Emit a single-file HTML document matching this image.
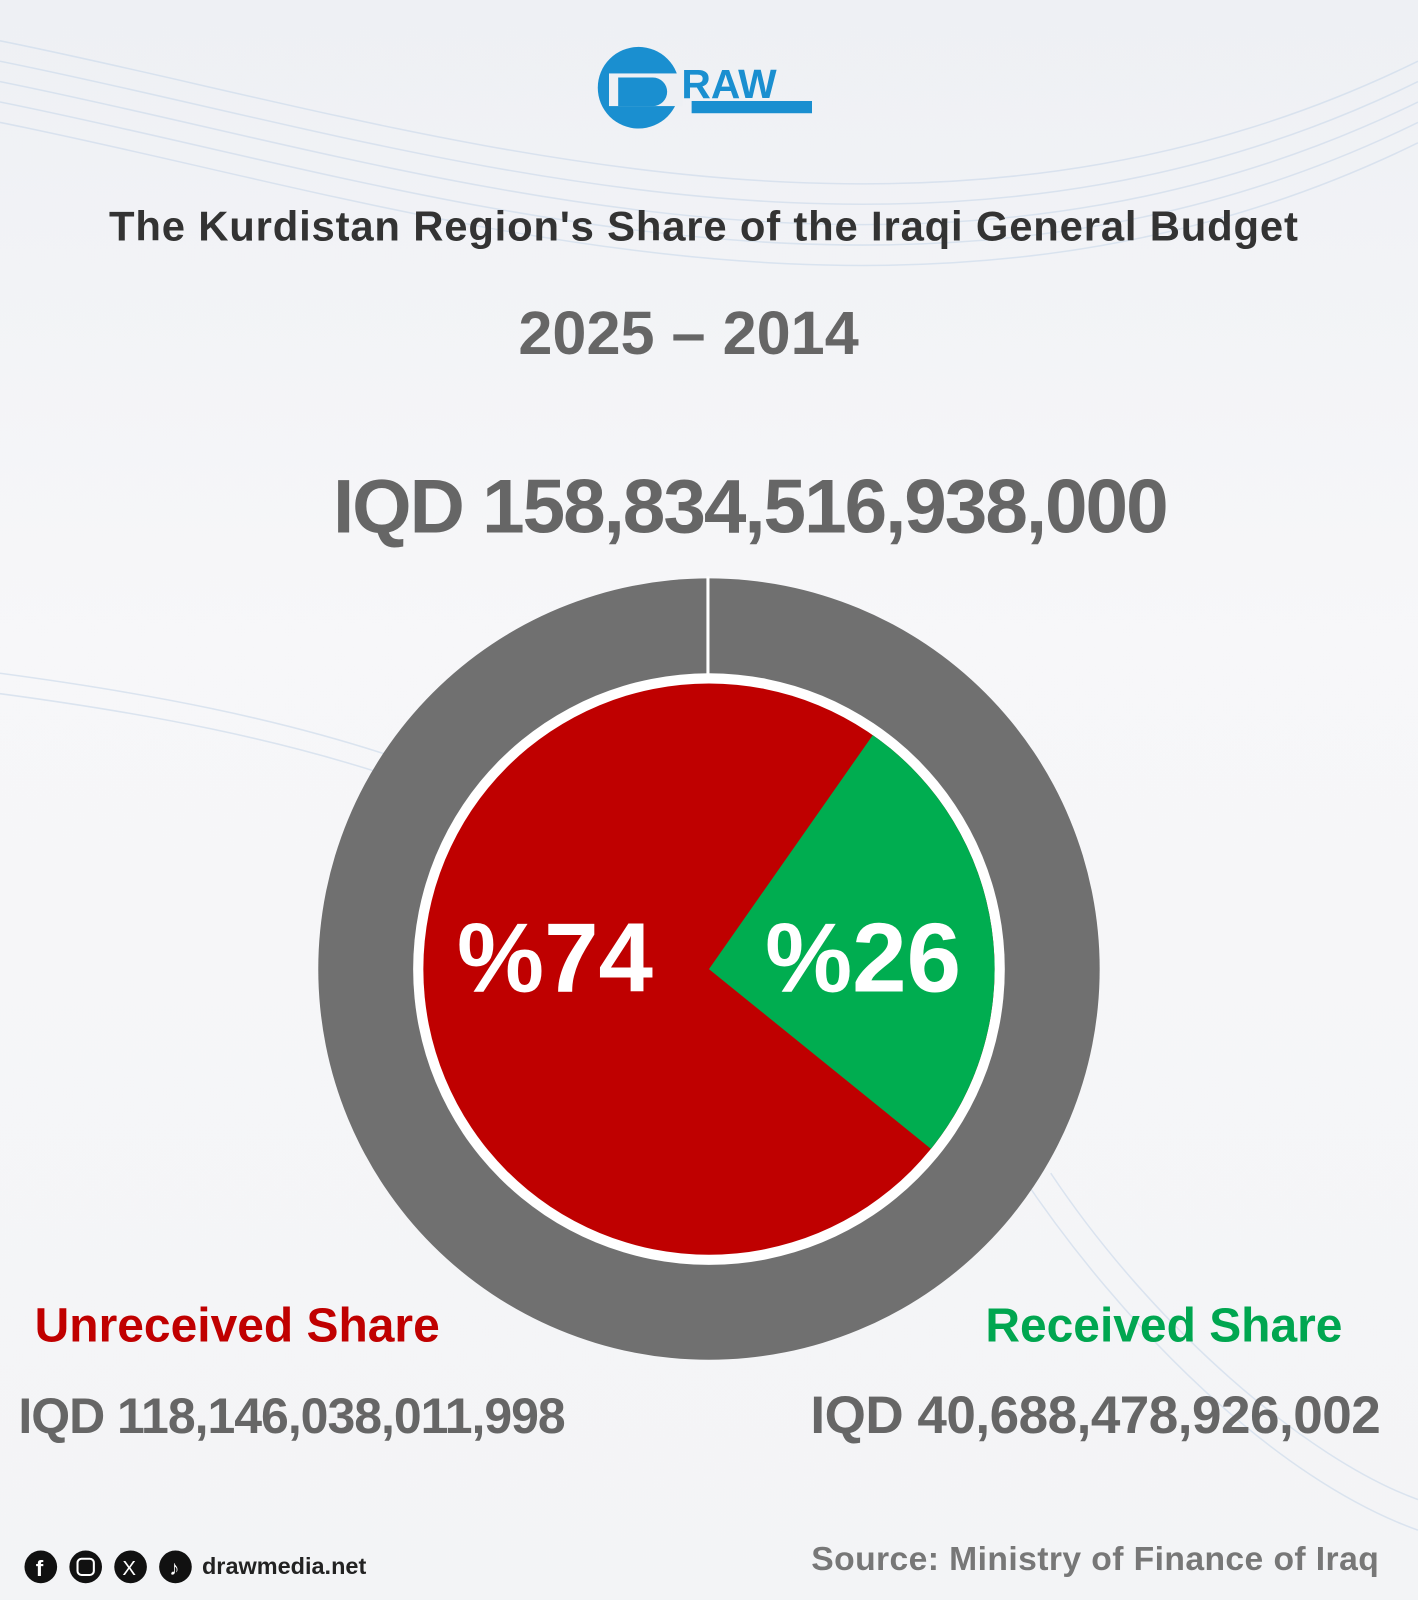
<!DOCTYPE html>
<html><head><meta charset="utf-8"><style>
html,body{margin:0;padding:0}
body{width:1418px;height:1600px;position:relative;overflow:hidden;background:linear-gradient(180deg,#eef0f4 0%,#f7f7f9 40%,#f3f4f6 100%);font-family:"Liberation Sans",Arial,sans-serif}
#w{position:absolute;left:0;top:0;width:1390px;height:1568px;transform:scale(1.0201);transform-origin:0 0}
.t{position:absolute;white-space:nowrap;font-weight:bold}
</style></head><body><div id="w">
<svg width="1390" height="1568" style="position:absolute;left:0;top:0">
<g fill="none" stroke="#cfdcec" stroke-width="1.5" opacity="0.7">
<path d="M0,40 C400,120 900,300 1390,60"/>
<path d="M0,60 C400,140 900,320 1390,80"/>
<path d="M0,80 C400,160 900,340 1390,100"/>
<path d="M0,100 C400,180 900,360 1390,120"/>
<path d="M0,120 C400,200 900,380 1390,140"/>
<path d="M0,660 C300,700 500,760 700,900"/>
<path d="M0,680 C300,720 500,780 700,920"/>
<path d="M1000,1150 C1100,1300 1250,1450 1390,1500"/>
<path d="M1030,1150 C1130,1300 1280,1430 1390,1470"/>
</g>
<circle cx="626" cy="86" r="40" fill="#1a8fd0"/>
<rect x="597" y="72" width="72" height="32" fill="#eef0f4"/>
<path d="M606,76 h34 a14,14 0 0 1 0,28 h-34 z" fill="#1a8fd0"/>
<text x="668" y="96" font-family="Liberation Sans" font-weight="bold" font-size="40" fill="#1a8fd0">RAW</text>
<rect x="678" y="99" width="118" height="12" fill="#1a8fd0"/>
<circle cx="695" cy="950" r="383" fill="#707070"/>
<line x1="694" y1="565" x2="694" y2="665" stroke="#fff" stroke-width="3"/>
<circle cx="695" cy="950" r="290" fill="#fff"/>
<circle cx="695" cy="950" r="280" fill="#bf0000"/>
<path d="M695,950 L855.6,720.6 A280,280 0 0 1 912.6,1126.2 Z" fill="#00ad50"/>
<g fill="#111"><circle cx="40" cy="1536" r="16"/><circle cx="84" cy="1536" r="16"/><circle cx="128" cy="1536" r="16"/><circle cx="172" cy="1536" r="16"/></g>
<text x="35" y="1545" font-family="Liberation Sans" font-weight="bold" font-size="22" fill="#fff">f</text>
<rect x="76" y="1528" width="16" height="16" rx="4" fill="none" stroke="#fff" stroke-width="2"/>
<text x="120" y="1544" font-family="Liberation Sans" font-size="20" fill="#fff">X</text>
<text x="166" y="1544" font-family="Liberation Sans" font-weight="bold" font-size="20" fill="#fff">♪</text>
</svg>
<div class="t" style="left:0;width:1380px;text-align:center;top:199px;font-size:41px;color:#333;letter-spacing:0.8px">The Kurdistan Region's Share of the Iraqi General Budget</div>
<div class="t" style="left:0;width:1350px;text-align:center;top:292px;font-size:60px;color:#666">2025 – 2014</div>
<div class="t" style="left:0;width:1470px;text-align:center;top:453px;font-size:75px;color:#666;letter-spacing:-2px">IQD 158,834,516,938,000</div>
<div class="t" style="left:448px;top:885px;font-size:96px;color:#fff">%74</div>
<div class="t" style="left:750px;top:885px;font-size:96px;color:#fff">%26</div>
<div class="t" style="left:34px;top:1271px;font-size:47px;color:#c00000">Unreceived Share</div>
<div class="t" style="left:18px;top:1361px;font-size:49px;color:#666;letter-spacing:-1px">IQD 118,146,038,011,998</div>
<div class="t" style="right:74px;top:1271px;font-size:47px;color:#00a650">Received Share</div>
<div class="t" style="right:37px;top:1358px;font-size:52px;color:#666;letter-spacing:-0.5px">IQD 40,688,478,926,002</div>
<div class="t" style="left:198px;top:1522px;font-size:23px;color:#222">drawmedia.net</div>
<div class="t" style="right:38px;top:1509px;font-size:33px;color:#777;letter-spacing:0.4px">Source: Ministry of Finance of Iraq</div>
</div></body></html>
